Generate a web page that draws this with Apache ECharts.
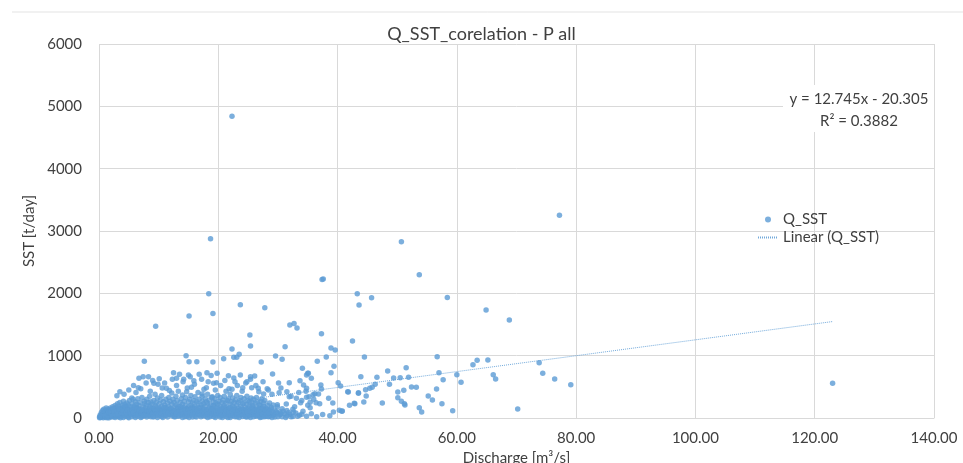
<!DOCTYPE html>
<html>
<head>
<meta charset="utf-8">
<script src="https://cdn.jsdelivr.net/npm/echarts@6/dist/echarts.min.js"></script>
<style>html,body{margin:0;padding:0;background:#fff;overflow:hidden}#c{width:963px;height:463px}</style>
</head>
<body>
<div id="c"></div>
<script>
const chartTitle = 'Q_SST_corelation - P all';
const xAxisName = 'Discharge [m³/s]';
const yAxisName = 'SST [t/day]';
const seriesName = 'Q_SST';
const trendName = 'Linear (Q_SST)';
const trendSlope = 12.745;
const trendIntercept = -20.305;
const trendLabel = ['y = 12.745x - 20.305', 'R² = 0.3882'];
const xTicks = [0, 20, 40, 60, 80, 100, 120, 140];
const yTicks = [0, 1000, 2000, 3000, 4000, 5000, 6000];

// dense low cluster (discharge, SST)
const clusterPoints = [
[0.1,5],[0.1,20],[0.3,10],[0.3,40],[0.5,15],[0.5,60],[0.5,30],[0.7,5],[0.7,80],[0.9,25],[0.9,50],[0.9,100],
[1.1,10],[1.1,70],[1.1,120],[1.3,40],[1.3,90],[1.5,20],[1.5,60],[1.5,140],[1.7,5],[1.7,110],[1.7,50],
[1.9,35],[1.9,80],[1.9,160],[2.1,15],[2.1,130],[2.1,60],[2.3,45],[2.3,100],[2.3,180],[2.5,20],[2.5,70],[2.5,150],
[2.7,10],[2.7,120],[2.7,200],[2.9,55],[2.9,90],[2.9,170],[3.1,30],[3.1,140],[3.1,230],[3.3,15],[3.3,80],[3.3,190],
[3.5,60],[3.5,120],[3.5,250],[3.7,25],[3.7,160],[3.7,100],[3.9,45],[3.9,200],[3.9,130],[4.1,10],[4.1,90],[4.1,170],[4.1,270],
[4.3,65],[4.3,140],[4.3,220],[4.5,30],[4.5,110],[4.5,190],[4.7,50],[4.7,160],[4.7,240],[4.9,15],[4.9,80],[4.9,210],
[5.1,40],[5.1,130],[5.1,280],[5.3,70],[5.3,180],[5.3,100],[5.5,20],[5.5,150],[5.5,230],[5.7,55],[5.7,110],[5.7,300],
[5.9,35],[5.9,190],[5.9,140],[6.1,10],[6.1,90],[6.1,260],[6.3,60],[6.3,170],[6.3,220],[6.5,30],[6.5,120],[6.5,310],
[6.7,80],[6.7,200],[6.7,150],[6.9,45],[6.9,250],[6.9,110],[7.2,20],[7.2,140],[7.2,330],[7.4,65],[7.4,180],[7.4,90],
[7.6,35],[7.6,230],[7.6,270],[7.8,100],[7.8,160],[7.8,50],[8.0,15],[8.0,210],[8.0,300],[8.3,70],[8.3,130],[8.3,250],
[8.5,40],[8.5,190],[8.5,350],[8.7,90],[8.7,260],[8.7,20],[8.9,55],[8.9,150],[8.9,220],[9.2,30],[9.2,120],[9.2,280],
[9.4,75],[9.4,200],[9.4,380],[9.6,45],[9.6,170],[9.6,250],[9.8,10],[9.8,110],[9.8,320],[10.1,85],[10.1,230],[10.1,160],
[10.3,50],[10.3,140],[10.3,290],[10.5,25],[10.5,190],[10.5,360],[10.8,95],[10.8,260],[10.8,60],[11.0,40],[11.0,130],[11.0,210],
[11.2,70],[11.2,300],[11.2,170],[11.5,15],[11.5,110],[11.5,240],[11.7,60],[11.7,180],[11.7,330],[11.9,90],[11.9,150],[11.9,270],
[12.2,35],[12.2,220],[12.2,400],[12.4,80],[12.4,130],[12.4,300],[12.6,20],[12.6,170],[12.6,250],[12.9,55],[12.9,210],[12.9,350],
[13.1,100],[13.1,140],[13.1,280],[13.3,30],[13.3,190],[13.3,430],[13.6,70],[13.6,250],[13.6,120],[13.8,45],[13.8,160],[13.8,310],
[14.0,10],[14.0,220],[14.0,370],[14.3,85],[14.3,130],[14.3,270],[14.5,50],[14.5,200],[14.5,330],[14.7,25],[14.7,150],[14.7,420],
[15.0,95],[15.0,260],[15.0,180],[15.2,40],[15.2,120],[15.2,300],[15.4,65],[15.4,210],[15.4,360],[15.7,15],[15.7,170],[15.7,240],
[15.9,80],[15.9,280],[15.9,130],[16.1,30],[16.1,190],[16.1,340],[16.4,60],[16.4,140],[16.4,260],[16.6,100],[16.6,230],[16.6,410],
[16.8,45],[16.8,160],[16.8,300],[17.1,20],[17.1,210],[17.1,120],[17.3,75],[17.3,270],[17.3,350],[17.5,35],[17.5,150],[17.5,230],
[17.8,90],[17.8,190],[17.8,310],[18.0,55],[18.0,130],[18.0,260],[18.2,10],[18.2,240],[18.2,380],[18.5,70],[18.5,170],[18.5,290],
[18.7,40],[18.7,210],[18.7,120],[18.9,95],[18.9,150],[18.9,330],[19.2,25],[19.2,260],[19.2,200],[19.4,60],[19.4,180],[19.4,310],
[19.6,35],[19.6,120],[19.6,240],[19.9,80],[19.9,220],[19.9,360],[20.1,50],[20.1,140],[20.1,270],[20.3,15],[20.3,190],[20.3,330],
[20.6,90],[20.6,250],[20.6,160],[20.8,40],[20.8,130],[20.8,290],[21.0,65],[21.0,200],[21.0,350],[21.3,25],[21.3,170],[21.3,240],
[21.5,85],[21.5,280],[21.5,130],[21.7,45],[21.7,150],[21.7,310],[22.0,10],[22.0,220],[22.0,380],[22.2,70],[22.2,140],[22.2,260],
[22.4,35],[22.4,190],[22.4,320],[22.7,100],[22.7,250],[22.7,170],[22.9,55],[22.9,130],[22.9,290],[23.1,20],[23.1,210],[23.1,360],
[23.4,80],[23.4,160],[23.4,250],[23.6,40],[23.6,280],[23.6,120],[23.8,60],[23.8,190],[23.8,330],[24.1,25],[24.1,140],[24.1,230],
[24.3,95],[24.3,240],[24.3,310],[24.5,50],[24.5,170],[24.5,120],[24.8,15],[24.8,220],[24.8,350],[25.0,75],[25.0,150],[25.0,280],
[25.2,35],[25.2,260],[25.2,190],[25.5,90],[25.5,130],[25.5,320],[25.7,55],[25.7,200],[25.7,250],[25.9,20],[25.9,160],[25.9,300],
[26.2,70],[26.2,240],[26.2,130],[26.4,40],[26.4,180],[26.4,330],[26.6,85],[26.6,120],[26.6,260],[26.9,30],[26.9,210],[26.9,150],
[27.1,60],[27.1,270],[27.1,200],[27.3,15],[27.3,140],[27.3,310],[27.6,80],[27.6,190],[27.6,240],[27.8,45],[27.8,110],[27.8,280],
[28.0,25],[28.0,160],[28.0,90],[28.3,60],[28.3,200],[28.6,30],[28.6,120],[28.6,240],[28.9,70],[28.9,170],[29.2,40],[29.2,210],
[29.5,15],[29.5,130],[29.9,80],[29.9,180],[30.3,50],[30.3,100],[30.7,20],[30.7,150],[31.1,70],[31.5,35],[31.5,120],[32.0,60],
[32.5,25],[32.5,140],[33.0,80],[33.6,45],[34.2,110],[34.8,30],[35.6,70],[36.5,20],[37.5,55],[38.7,35]
];

// additional low-band points that make the bottom band solid
const lowBandPoints = [
[0.2,50],[0.4,90],[0.6,120],[0.8,140],[1.0,35],[1.2,160],[1.4,5],[1.6,95],[1.8,130],[2.0,110],[2.2,30],[2.4,140],
[2.6,95],[2.8,40],[3.0,110],[3.2,65],[3.4,150],[3.6,5],[3.8,75],[4.0,130],[4.2,40],[4.4,180],[4.6,75],[4.8,130],
[5.0,5],[5.2,95],[5.4,60],[5.6,130],[5.8,90],[6.0,170],[6.2,40],[6.4,140],[6.6,60],[6.8,120],[7.0,10],[7.1,85],
[7.3,110],[7.5,45],[7.7,130],[7.9,80],[8.1,120],[8.2,40],[8.4,100],[8.6,160],[8.8,115],[9.0,80],[9.1,15],[9.3,150],
[9.5,110],[9.7,70],[9.9,140],[10.0,40],[10.2,110],[10.4,80],[10.6,120],[10.7,10],[10.9,170],[11.1,100],[11.3,45],
[11.4,140],[11.6,85],[11.8,120],[12.0,60],[12.1,150],[12.3,100],[12.5,50],[12.7,110],[12.8,20],[13.0,70],[13.2,160],
[13.4,100],[13.5,40],[13.7,180],[13.9,100],[14.1,60],[14.2,160],[14.4,20],[14.6,110],[14.8,70],[14.9,140],[15.1,10],
[15.3,90],[15.5,140],[15.6,50],[15.8,110],[16.0,160],[16.2,90],[16.3,15],[16.5,120],[16.7,70],[16.9,110],[17.0,160],
[17.2,50],[17.4,110],[17.6,80],[17.7,140],[17.9,30],[18.1,100],[18.3,70],[18.4,140],[18.6,20],[18.8,100],[19.0,60],
[19.1,150],[19.3,110],[19.5,10],[19.7,80],[19.8,160],[20.0,110],[20.2,80],[20.4,120],[20.5,40],[20.7,10],[20.9,170],
[21.1,110],[21.2,60],[21.4,120],[21.6,10],[21.8,100],[21.9,170],[22.1,40],[22.3,110],[22.5,70],[22.6,140],[22.8,20],
[23.0,100],[23.2,60],[23.3,130],[23.5,10],[23.7,110],[23.9,140],[24.0,80],[24.2,50],[24.4,110],[24.6,20],[24.7,140],
[24.9,100],[25.1,50],[25.3,110],[25.4,10],[25.6,170],[25.8,100],[26.0,60],[26.1,120],[26.3,30],[26.5,140],[26.7,50],
[26.8,110],[27.0,10],[27.2,100],[27.4,70],[27.5,150],[27.7,20],[27.9,130],[28.1,60],[28.2,130],[28.4,20],[28.5,90],
[28.8,140],[29.0,10],[29.1,100],[29.4,60],[29.7,100],[30.0,20],[30.5,70],[30.9,110],[31.3,10],[31.8,90],[32.2,20],
[33.3,30],[34.0,60]
];

// scattered mid-level points
const midPoints = [
[3.5,420],[4.2,380],[5.0,450],[5.8,520],[6.2,410],[7.0,470],[7.9,560],[8.6,430],[9.0,600],[10.6,480],[11.0,560],
[11.8,440],[12.3,620],[13.0,520],[13.5,700],[14.1,580],[14.8,480],[15.3,660],[16.0,540],[16.8,700],[17.6,460],
[18.3,580],[18.8,680],[19.5,450],[20.4,520],[21.1,600],[21.8,470],[22.6,640],[23.2,520],[24.0,430],[24.6,560],
[25.4,620],[26.3,520],[26.8,420],[27.5,580],[28.2,470],[29.0,380],[30.5,480],[31.5,420],[32.2,350],[33.5,410],
[34.0,280],[36.0,300],[37.0,230]
];

// individually read points
const outlierPoints = [
[22.3,4841],[77.2,3254],[18.7,2874],[50.7,2826],[53.7,2297],[37.4,2223],[37.6,2230],[18.4,1993],[43.3,1993],[58.4,1934],
[45.7,1929],[23.7,1816],[43.6,1811],[27.8,1768],[64.9,1731],[19.1,1678],[15.1,1635],[68.8,1571],[32.7,1518],[32.0,1491],
[9.5,1470],[33.2,1443],[37.3,1351],[25.3,1330],[42.5,1234],[25.4,1154],[31.2,1143],[38.9,1122],[22.3,1106],[39.6,1090],
[23.5,1021],[14.6,999],[29.6,994],[56.7,983],[44.5,978],[38.1,978],[22.6,973],[23.1,973],[20.9,951],[30.7,941],[65.2,930],
[63.4,925],[36.6,909],[7.6,909],[15.1,903],[16.4,903],[19.1,898],[27.2,898],[73.8,887],[62.7,855],[39.4,829],[51.5,806],
[34.1,797],[48.4,753],[18.1,726],[12.5,726],[38.9,726],[57.0,726],[35.1,717],[19.8,717],[35.0,717],[74.4,717],[29.1,705],
[66.1,694],[60.0,694],[23.7,689],[34.8,689],[15.0,689],[21.7,678],[26.1,673],[7.4,662],[8.3,662],[25.4,662],[43.9,662],
[51.9,652],[46.6,652],[49.4,641],[50.5,646],[6.7,636],[35.6,636],[13.0,636],[10.1,630],[76.4,625],[66.5,625],[14.2,620],
[17.2,620],[57.7,614],[33.7,598],[15.9,598],[22.8,582],[24.8,582],[60.7,572],[40.1,566],[19.7,566],[31.9,566],[30.1,561],
[123.0,558],[19.2,556],[9.2,556],[48.7,540],[46.3,540],[9.9,540],[79.1,534],[34.3,529],[37.2,529],[40.5,513],[52.4,497],
[53.2,492],[15.5,492],[45.8,492],[18.0,486],[24.1,486],[25.6,486],[6.6,486],[45.4,476],[26.7,476],[11.3,476],[34.8,476],
[56.6,465],[37.3,465],[22.3,460],[44.7,454],[28.4,449],[51.1,444],[21.3,428],[34.7,428],[41.7,422],[50.1,417],[41.8,417],
[30.2,406],[43.5,406],[43.5,396],[36.2,390],[27.6,385],[17.3,385],[36.8,385],[35.9,373],[3.0,358],[44.8,353],[55.2,353],
[35.2,341],[19.0,341],[31.9,341],[34.8,332],[50.1,325],[5.5,321],[33.1,316],[38.5,316],[55.9,289],[50.7,268],[35.4,252],
[44.4,256],[36.4,245],[33.8,245],[39.2,240],[47.5,240],[42.8,236],[51.2,229],[42.9,229],[57.5,229],[31.4,224],[29.9,213],
[51.3,208],[42.0,204],[35.0,204],[32.8,181],[35.4,165],[53.7,165],[70.2,144],[40.8,112],[40.3,123],[59.3,117],[40.7,107],
[54.1,96],[39.3,96],[32.6,96]
];

const allPoints = clusterPoints.concat(lowBandPoints, midPoints, outlierPoints);
const xs = allPoints.map(p => p[0]);
const xMinData = Math.min.apply(null, xs);
const xMaxData = Math.max.apply(null, xs);
const trendPoints = [xMinData, xMaxData].map(x => [x, trendSlope * x + trendIntercept]);

const FONT = 'Lato, "Open Sans", sans-serif';
const TXT = '#404040';
const BLUE = '#5B9BD5';
const GRID = '#d9d9d9';

const chart = echarts.init(document.getElementById('c'), null, {renderer: 'canvas'});
chart.setOption({
  animation: false,
  backgroundColor: '#ffffff',
  title: {
    text: chartTitle, left: 'center', top: 20,
    textStyle: {fontFamily: FONT, fontSize: 18, fontWeight: 'normal', color: TXT}
  },
  grid: {left: 99, right: 29, top: 44, bottom: 45, containLabel: false, outerBoundsMode: 'none'},
  xAxis: {
    type: 'value', min: xTicks[0], max: xTicks[xTicks.length - 1], interval: xTicks[1] - xTicks[0],
    name: xAxisName, nameLocation: 'middle', nameGap: 33,
    nameTextStyle: {fontFamily: FONT, fontSize: 15, color: TXT},
    axisLine: {show: true, lineStyle: {color: GRID}},
    axisTick: {show: false},
    splitLine: {show: true, lineStyle: {color: GRID, width: 1}},
    axisLabel: {fontFamily: FONT, fontSize: 15, color: TXT, margin: 13, formatter: v => v.toFixed(2)}
  },
  yAxis: {
    type: 'value', min: yTicks[0], max: yTicks[yTicks.length - 1], interval: yTicks[1] - yTicks[0],
    name: yAxisName, nameLocation: 'middle', nameGap: 50, nameRotate: 90,
    nameTextStyle: {fontFamily: FONT, fontSize: 15, color: TXT},
    axisLine: {show: false},
    axisTick: {show: false},
    splitLine: {show: true, lineStyle: {color: GRID, width: 1}},
    axisLabel: {fontFamily: FONT, fontSize: 15, color: TXT, margin: 17, formatter: v => String(v)}
  },
  legend: {
    orient: 'vertical', left: 752, top: 207, itemWidth: 20, itemHeight: 6, itemGap: 3,
    textStyle: {fontFamily: FONT, fontSize: 15, color: TXT},
    data: [{name: seriesName, icon: 'circle'}, {name: trendName, itemStyle: {opacity: 0}}]
  },
  series: [
    {
      name: seriesName, type: 'scatter', data: allPoints, symbol: 'circle', symbolSize: 5.5,
      itemStyle: {color: BLUE}, z: 3
    },
    {
      name: trendName, type: 'line', data: trendPoints, symbol: 'none', showSymbol: false, clip: true,
      lineStyle: {color: BLUE, width: 1, type: [1, 1], opacity: 0.85}, z: 4
    }
  ],
  graphic: [
    {type: 'line', shape: {x1: 12, y1: 12, x2: 963, y2: 12}, style: {stroke: '#e3e3e3', lineWidth: 1}, silent: true},
    {type: 'rect', shape: {x: 783, y: 85, width: 151, height: 47}, style: {fill: '#ffffff'}, z: 10, silent: true},
    {type: 'text', x: 859, y: 99, z: 11, style: {text: trendLabel[0], fill: TXT, font: '15px ' + FONT, align: 'center', verticalAlign: 'middle'}},
    {type: 'text', x: 859, y: 121, z: 11, style: {text: trendLabel[1], fill: TXT, font: '15px ' + FONT, align: 'center', verticalAlign: 'middle'}}
  ]
});
</script>
</body>
</html>
